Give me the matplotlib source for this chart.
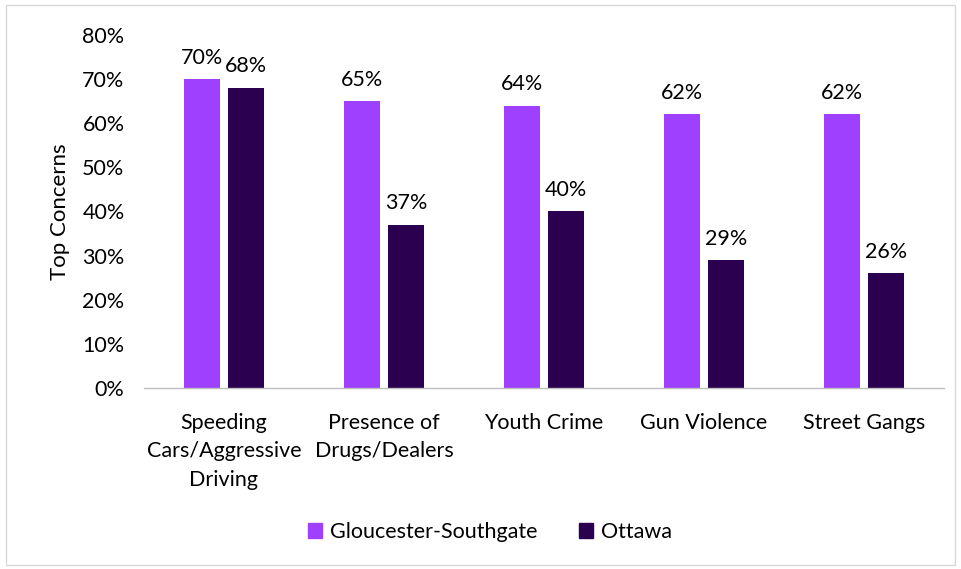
import matplotlib
matplotlib.use("Agg")
import matplotlib.pyplot as plt
import matplotlib.patches as mpatches
import numpy as np

categories = ["Speeding\nCars/Aggressive\nDriving", "Presence of\nDrugs/Dealers",
              "Youth Crime", "Gun Violence", "Street Gangs"]
gloucester = [70, 65, 64, 62, 62]
ottawa = [68, 37, 40, 29, 26]
series_names = ["Gloucester-Southgate", "Ottawa"]
yticks = [0, 10, 20, 30, 40, 50, 60, 70, 80]

col_a = '#A040FF'
col_b = '#2B0050'
fs = 15.5

plt.rcParams['font.family'] = ['Lato', 'DejaVu Sans']

fig = plt.figure(figsize=(9.61, 5.69), dpi=100)
ax = fig.add_axes([0.1498, 0.3181, 0.8325, 0.6204])

x = np.arange(len(categories))
w = 0.225
off = 0.14
b1 = ax.bar(x - off, gloucester, w, color=col_a, label=series_names[0])
b2 = ax.bar(x + off, ottawa, w, color=col_b, label=series_names[1])

for bars in (b1, b2):
    for r in bars:
        ax.text(r.get_x() + r.get_width() / 2, r.get_height() + 2.6,
                '%d%%' % r.get_height(), ha='center', va='bottom', fontsize=fs)

ax.set_xlim(-0.5, len(categories) - 0.5)
ax.set_ylim(0, 80)
ax.set_yticks(yticks)
ax.set_yticklabels(['%d%%' % t for t in yticks], fontsize=fs)
ax.set_xticks(x)
ax.set_xticklabels(categories, fontsize=fs, linespacing=1.52, va='top')
ax.tick_params(axis='both', length=0)
ax.tick_params(axis='x', pad=18)
ax.tick_params(axis='y', pad=14)
ax.set_ylabel('Top Concerns', fontsize=16, labelpad=9)

for s in ['top', 'right', 'left']:
    ax.spines[s].set_visible(False)
ax.spines['bottom'].set_color('#BFBFBF')
ax.spines['bottom'].set_linewidth(1)

fig.legend(handles=[mpatches.Patch(color=col_a, label=series_names[0]),
                    mpatches.Patch(color=col_b, label=series_names[1])],
           loc='center', bbox_to_anchor=(0.51, 0.065), ncol=2, frameon=False,
           fontsize=fs, handlelength=0.65, handleheight=0.65, columnspacing=1.9,
           handletextpad=0.4)

border = mpatches.Rectangle((6 / 961, 4 / 569), 949 / 961, 560 / 569,
                            transform=fig.transFigure, fill=False,
                            edgecolor='#D9D9D9', linewidth=1)
fig.patches.append(border)

fig.savefig('out.png', dpi=100)
